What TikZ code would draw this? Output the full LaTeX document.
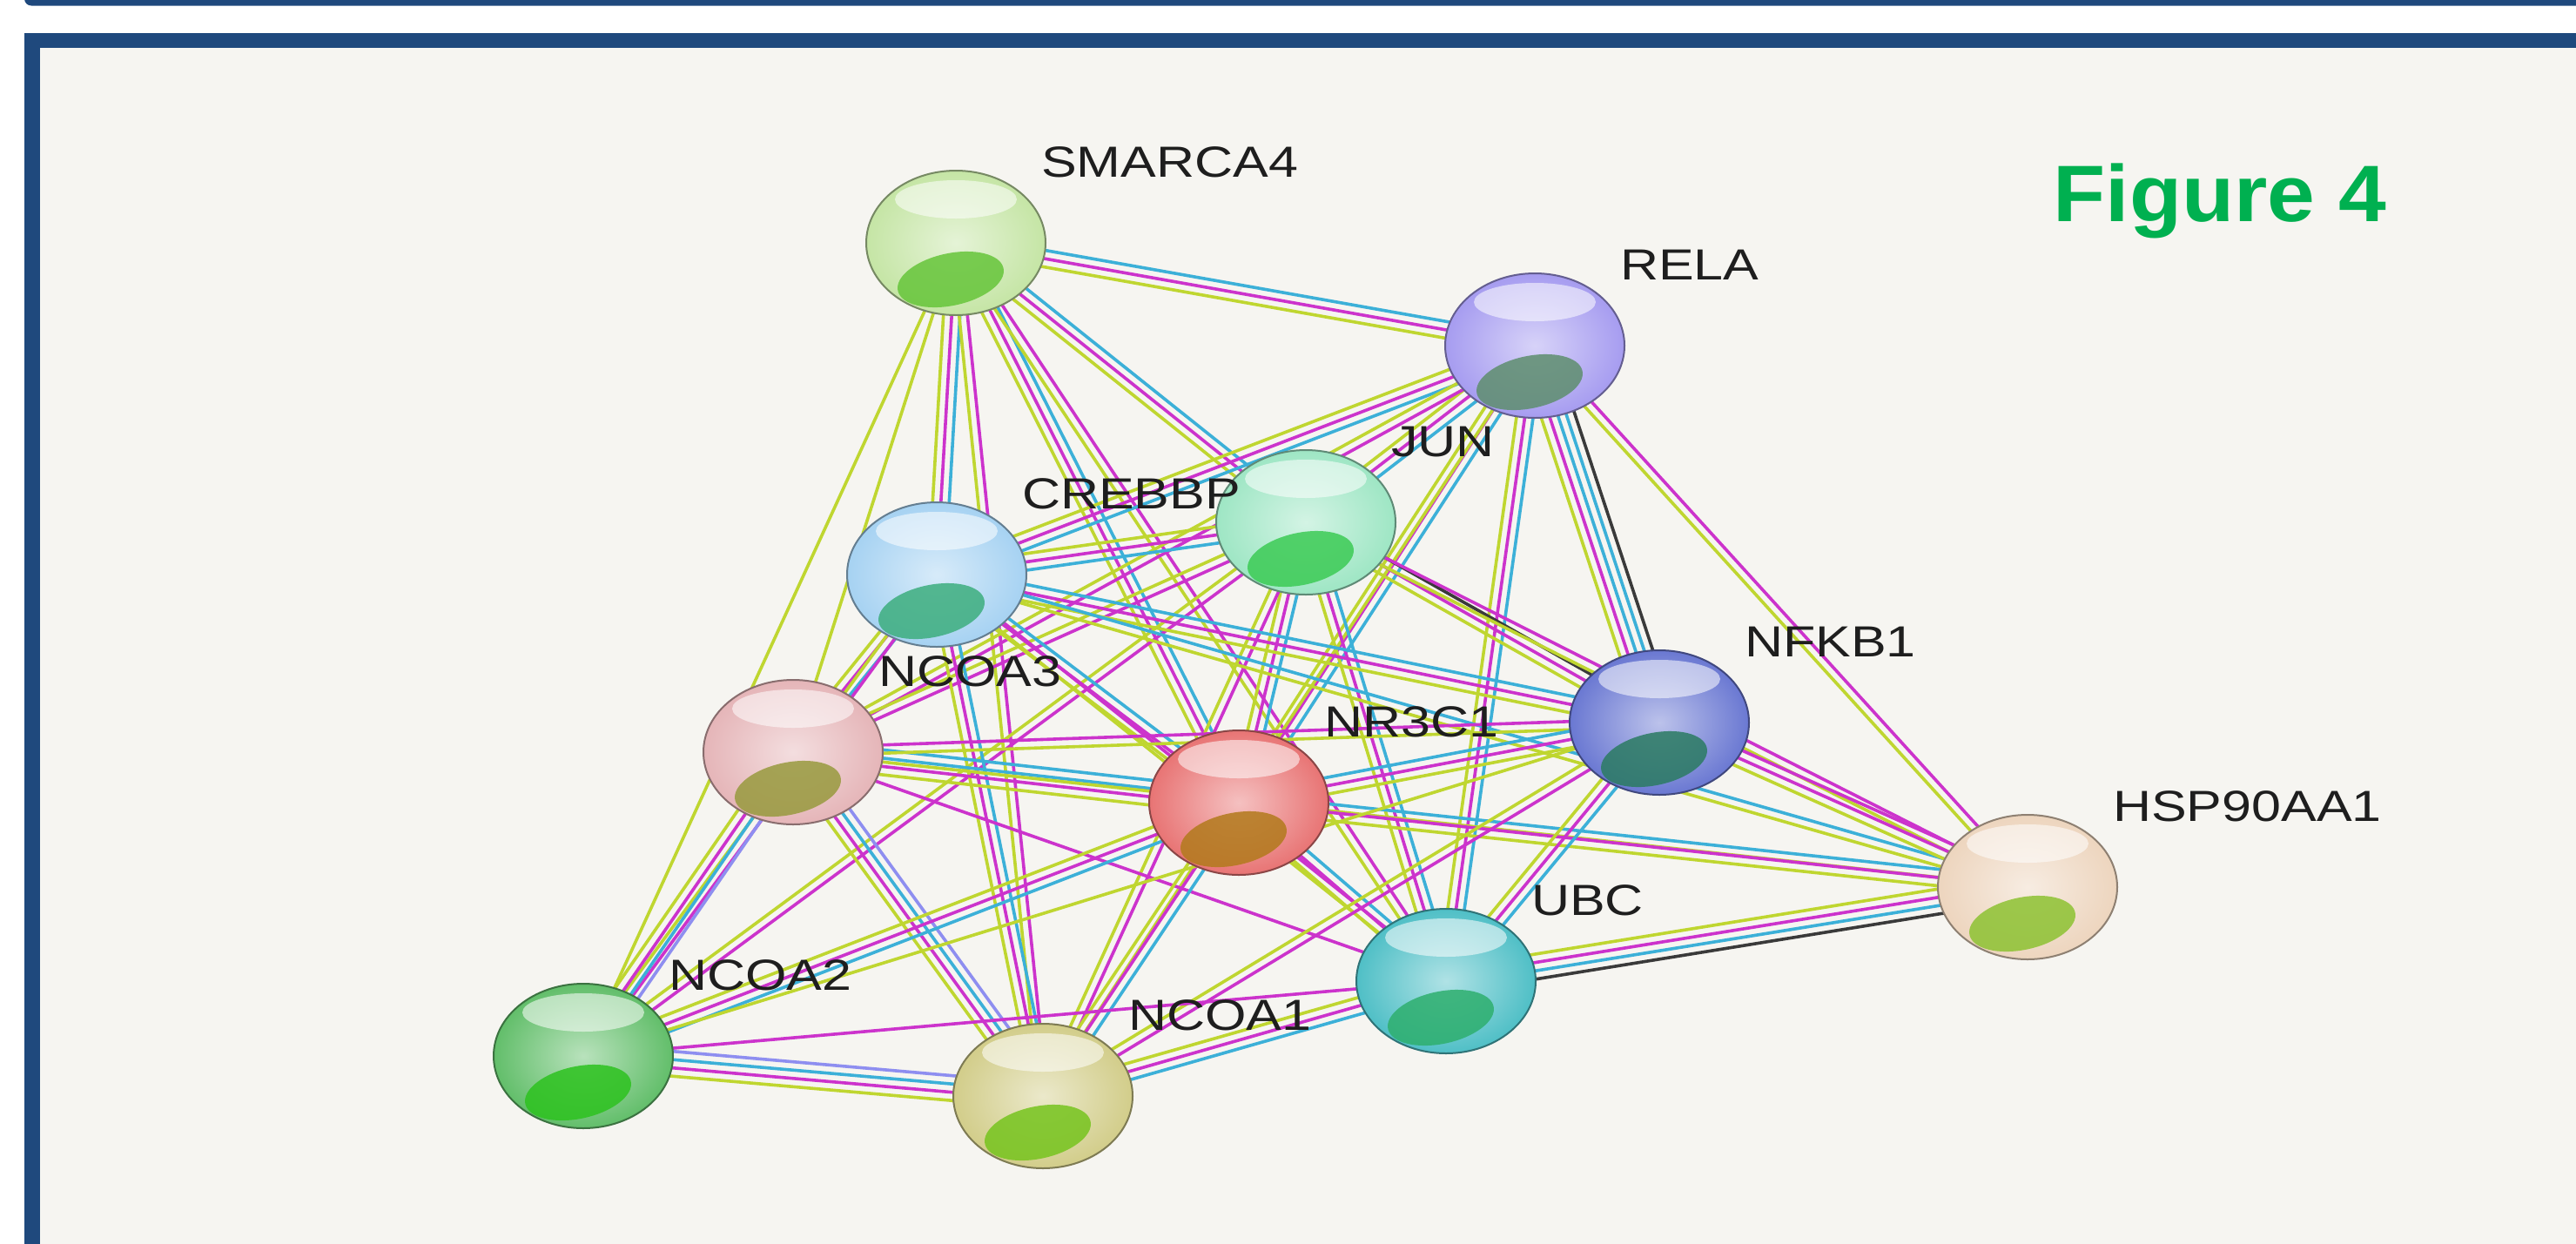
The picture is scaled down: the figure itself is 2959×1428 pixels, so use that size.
\documentclass[tikz,border=0pt]{standalone}
\usepackage{fontspec}
\setmainfont{Liberation Sans}
\usepackage{graphicx}
\usetikzlibrary{shapes.geometric,calc}
\definecolor{frameblue}{HTML}{1F497D}
\definecolor{bgcol}{HTML}{F6F5F1}
\definecolor{cY}{HTML}{BFD630}
\definecolor{cM}{HTML}{CC33CC}
\definecolor{cC}{HTML}{3CB0D8}
\definecolor{cK}{HTML}{3A3A3A}
\definecolor{cP}{HTML}{8E8EF0}
\definecolor{lbltext}{HTML}{1E1E1E}
\definecolor{figgreen}{HTML}{00B050}
\definecolor{bSma}{HTML}{C5E5A5}\definecolor{oSma}{HTML}{66C53A}
\definecolor{bRela}{HTML}{A69CF0}\definecolor{oRela}{HTML}{5E8E6E}
\definecolor{bJun}{HTML}{9EE6C4}\definecolor{oJun}{HTML}{3CCB55}
\definecolor{bCreb}{HTML}{A6D2F2}\definecolor{oCreb}{HTML}{3DAE7E}
\definecolor{bNcIII}{HTML}{E5B5B8}\definecolor{oNcIII}{HTML}{989A3E}
\definecolor{bNr}{HTML}{E87474}\definecolor{oNr}{HTML}{B27A1C}
\definecolor{bNfkb}{HTML}{6A78D2}\definecolor{oNfkb}{HTML}{2B7B62}
\definecolor{bHsp}{HTML}{EDD5BE}\definecolor{oHsp}{HTML}{8DC232}
\definecolor{bUbc}{HTML}{4FBFC6}\definecolor{oUbc}{HTML}{2EAF6E}
\definecolor{bNcII}{HTML}{62BE6A}\definecolor{oNcII}{HTML}{2DC21F}
\definecolor{bNcI}{HTML}{D2CD8A}\definecolor{oNcI}{HTML}{76C41E}
\pgfdeclarelayer{bg}\pgfdeclarelayer{edges}\pgfdeclarelayer{top}
\pgfsetlayers{bg,edges,main,top}
\tikzset{
  ballnode/.style={ellipse, minimum width=206pt, minimum height=166pt, inner sep=0pt, line width=2pt},
  lbl/.style={font=\fontsize{50}{60}\selectfont, text=lbltext, inner sep=0pt, anchor=base west},
  figtitle/.style={font=\fontsize{92}{110}\selectfont\bfseries, text=figgreen, inner sep=0pt, anchor=base},
  edge/.style={line width=3.6pt}
}
\newcommand\edgsp{9.5}
\newcommand\ball[6]{%
  \node[ballnode, draw=#4!60!black, inner color=#4!45!white, outer color=#4] (#1) at (#2,#3) {};
  \begin{scope}
    \clip (#1.center) ellipse [x radius=102pt, y radius=82pt];
    \fill[#5, opacity=0.85] ($(#1.center)+(-6,42)$) ellipse [x radius=62pt, y radius=30pt, rotate=12];
    \fill[white, opacity=0.55] ($(#1.center)+(0,-50)$) ellipse [x radius=70pt, y radius=22pt];
  \end{scope}
  \begin{pgfonlayer}{top}
    \node[lbl] (#1l) at ($(#1.center)+(98,-76)$) {\scalebox{1.22}[1]{#6}};
  \end{pgfonlayer}
}
\newcommand\edg[3]{%
  \foreach \cc [count=\nn] in {#3} {\xdef\edgN{\nn}}%
  \foreach \cc [count=\ii] in {#3} {%
    \pgfmathsetmacro\off{(\ii-(\edgN+1)/2)*\edgsp}%
    \draw[edge, draw=\cc] ($(#1.center)!\off pt!90:(#2.center)$) -- ($(#2.center)!\off pt!-90:(#1.center)$);
  }%
}
\begin{document}
\begin{tikzpicture}[x=1pt,y=-1pt]
\useasboundingbox (0,0) rectangle (2959,1428);
\begin{pgfonlayer}{bg}
  \fill[white] (0,0) rectangle (2959,1428);
  \fill[frameblue, rounded corners=8pt] (28,-20) rectangle (2980,6.5);
  \fill[frameblue] (28,38) rectangle (2980,1450);
  \fill[bgcol] (46,55) rectangle (2980,1450);
\end{pgfonlayer}

\ball{sma}{1098}{279}{bSma}{oSma}{SMARCA4}
\ball{rela}{1763}{397}{bRela}{oRela}{RELA}
\ball{jun}{1500}{600}{bJun}{oJun}{JUN}
\ball{creb}{1076}{660}{bCreb}{oCreb}{CREBBP}
\ball{nc3}{911}{864}{bNcIII}{oNcIII}{NCOA3}
\ball{nr}{1423}{922}{bNr}{oNr}{NR3C1}
\ball{nfkb}{1906}{830}{bNfkb}{oNfkb}{NFKB1}
\ball{hsp}{2329}{1019}{bHsp}{oHsp}{HSP90AA1}
\ball{ubc}{1661}{1127}{bUbc}{oUbc}{UBC}
\ball{nc2}{670}{1213}{bNcII}{oNcII}{NCOA2}
\ball{nc1}{1198}{1259}{bNcI}{oNcI}{NCOA1}

\node[figtitle] (fig) at (2550,254) {\scalebox{1.07}[1]{Figure 4}};

\begin{pgfonlayer}{edges}
\edg{sma}{rela}{cY,cM,cC}
\edg{sma}{creb}{cY,cM,cC}
\edg{sma}{jun}{cY,cM,cC}
\edg{sma}{nc3}{cY}
\edg{sma}{nr}{cY,cM,cC}
\edg{sma}{nc1}{cY,cM}
\edg{sma}{nc2}{cY}
\edg{sma}{ubc}{cY,cM}
\edg{rela}{creb}{cY,cM,cC}
\edg{rela}{jun}{cY,cM,cC}
\edg{rela}{nfkb}{cY,cM,cC,cC,cK}
\edg{rela}{hsp}{cY,cM}
\edg{rela}{ubc}{cY,cM,cC}
\edg{rela}{nr}{cY,cM,cC}
\edg{rela}{nc3}{cY,cM}
\edg{rela}{nc1}{cY}
\edg{jun}{creb}{cY,cM,cC}
\edg{jun}{nr}{cY,cM,cC}
\edg{jun}{nfkb}{cY,cM,cK}
\edg{jun}{ubc}{cY,cM,cC}
\edg{jun}{nc3}{cY,cM}
\edg{jun}{nc1}{cY,cM}
\edg{jun}{nc2}{cY,cM}
\edg{jun}{hsp}{cY,cM}
\edg{creb}{nc3}{cY,cM,cC}
\edg{creb}{nr}{cY,cM,cC}
\edg{creb}{nfkb}{cY,cM,cC}
\edg{creb}{nc1}{cY,cM,cC}
\edg{creb}{nc2}{cY,cM}
\edg{creb}{ubc}{cY,cM}
\edg{creb}{hsp}{cY,cC}
\edg{nc3}{nr}{cY,cM,cC,cC}
\edg{nc3}{nc2}{cY,cM,cC,cP}
\edg{nc3}{nc1}{cY,cM,cC,cP}
\edg{nc3}{nfkb}{cY,cM}
\edg{nc3}{ubc}{cM}
\edg{nc3}{hsp}{cY}
\edg{nr}{nfkb}{cY,cM,cC}
\edg{nr}{hsp}{cY,cM,cC}
\edg{nr}{ubc}{cY,cM,cC}
\edg{nr}{nc2}{cY,cM,cC}
\edg{nr}{nc1}{cY,cM,cC}
\edg{nfkb}{hsp}{cY,cM,cM}
\edg{nfkb}{ubc}{cY,cM,cC}
\edg{nfkb}{nc1}{cY,cM}
\edg{nfkb}{nc2}{cY}
\edg{hsp}{ubc}{cY,cM,cC,cK}
\edg{ubc}{nc1}{cY,cM,cC}
\edg{ubc}{nc2}{cM}
\edg{nc2}{nc1}{cY,cM,cC,cP}
\end{pgfonlayer}
\end{tikzpicture}
\end{document}
